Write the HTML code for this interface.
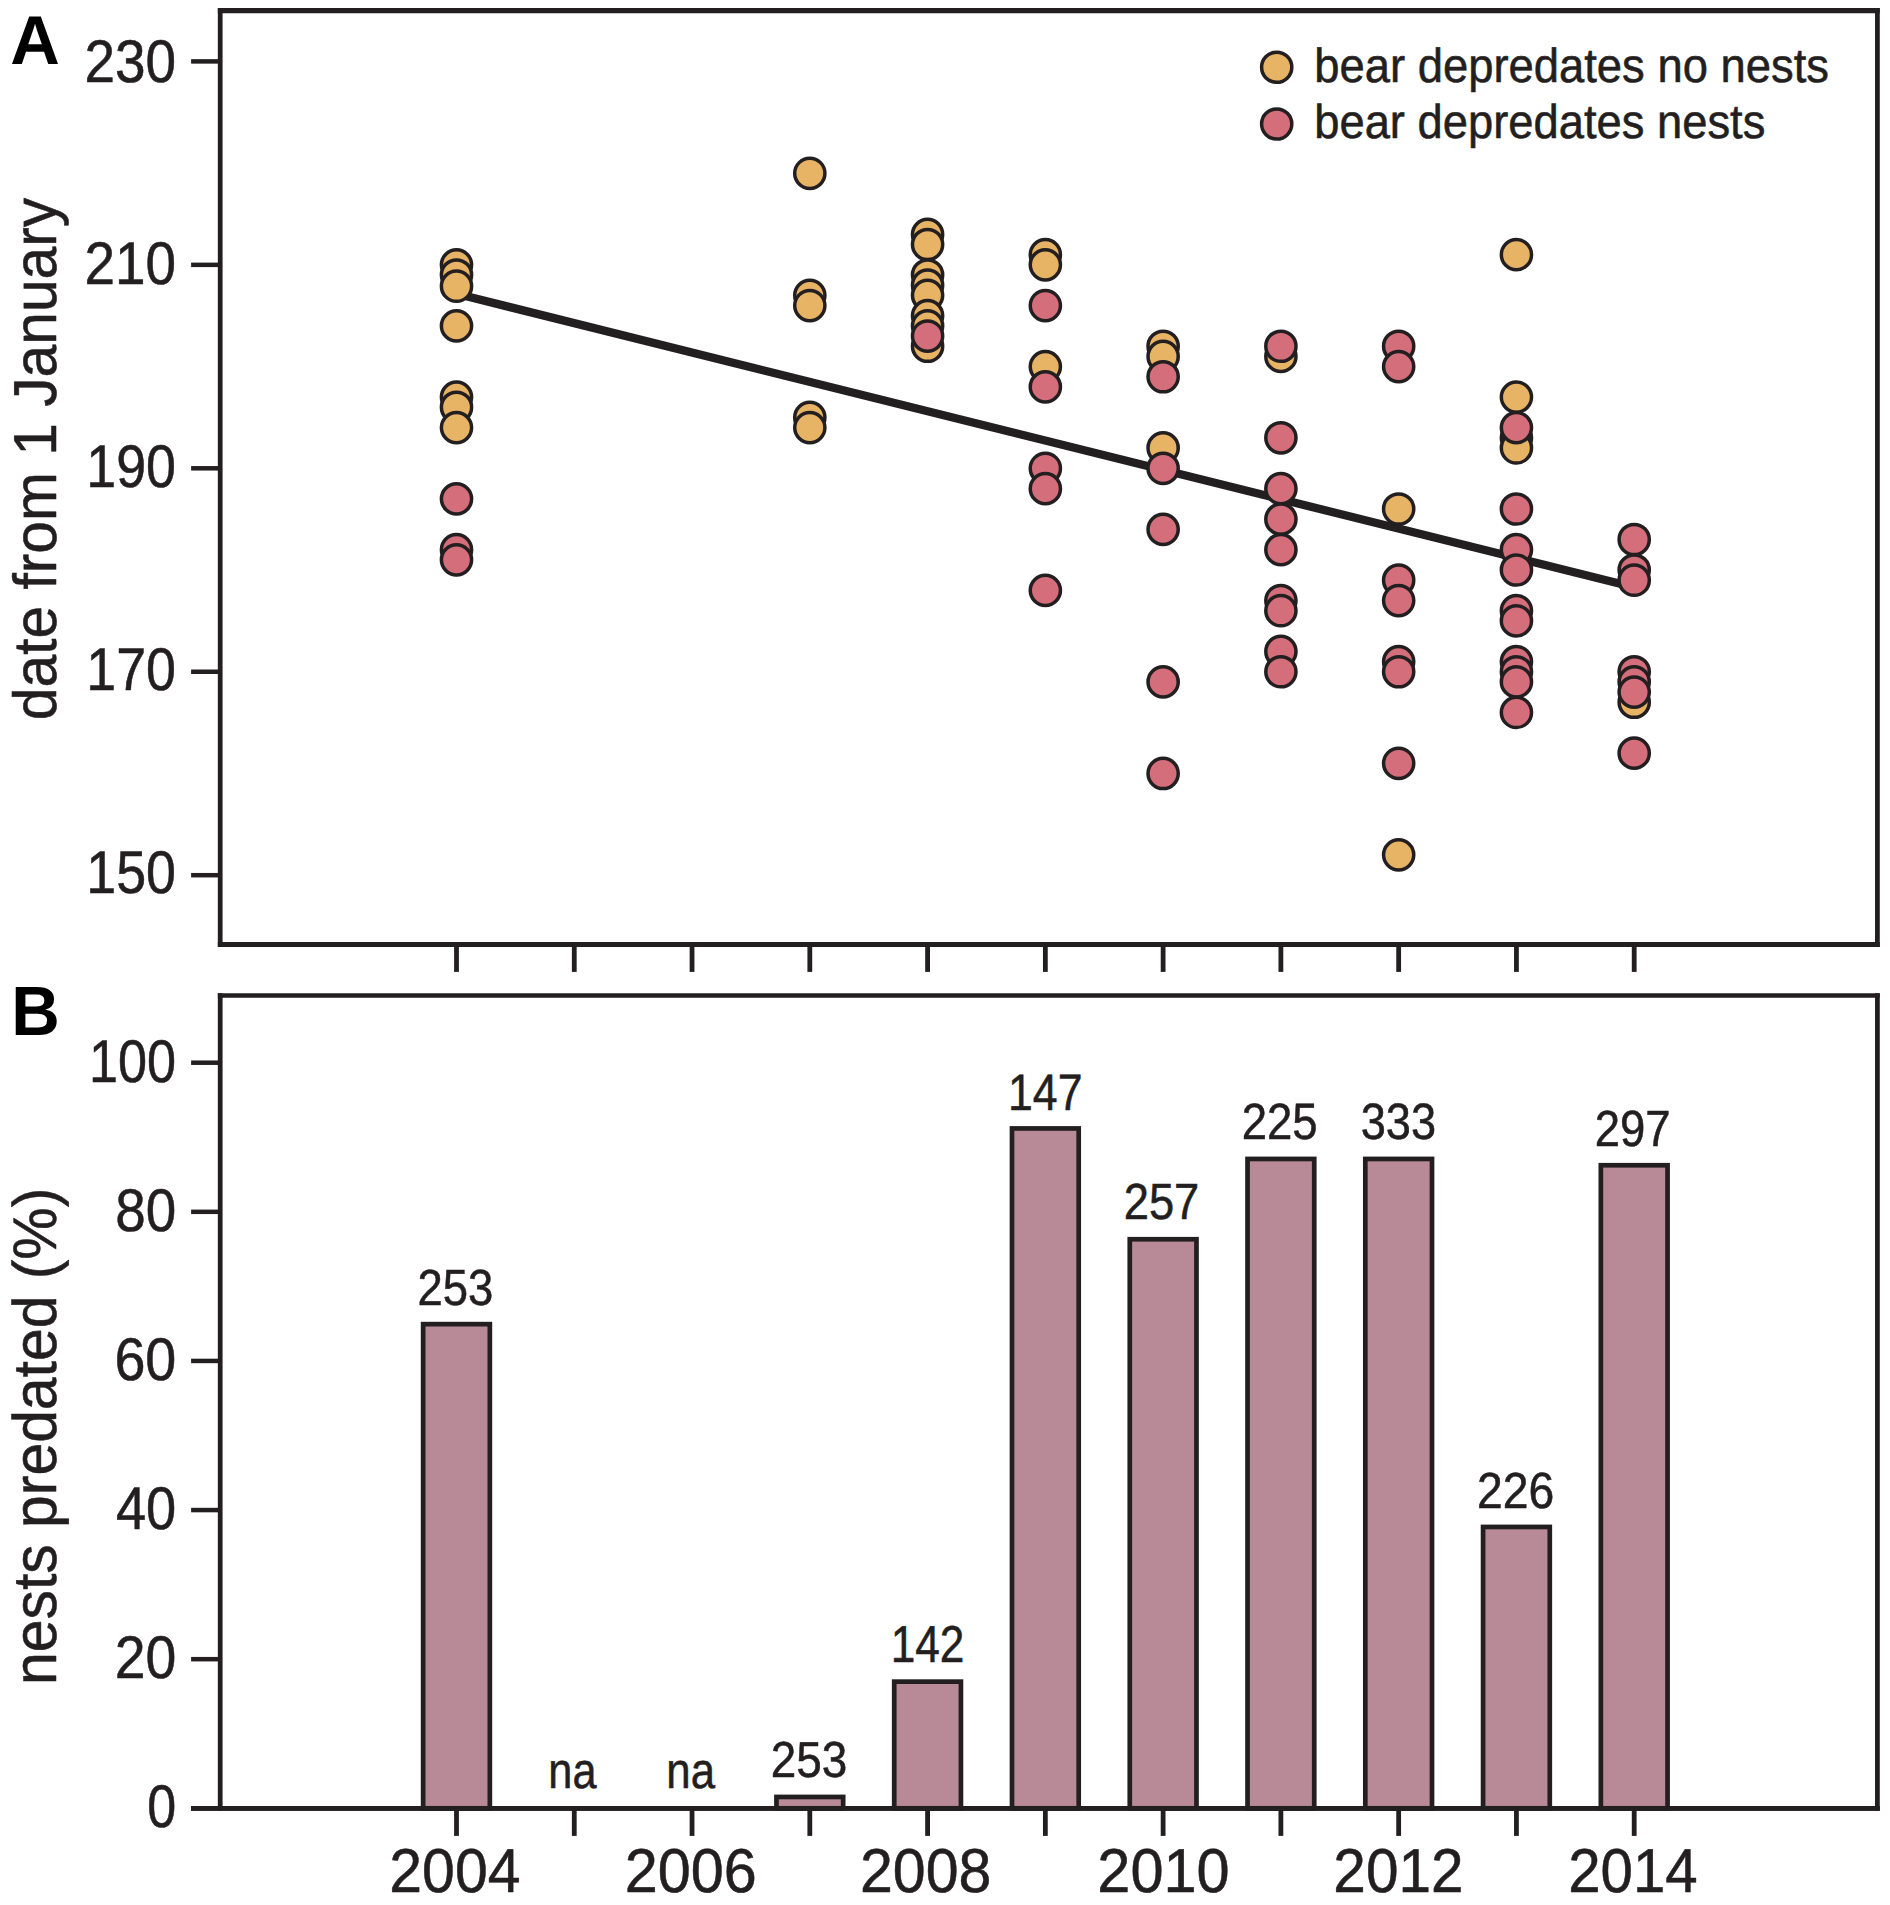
<!DOCTYPE html>
<html lang="en"><head><meta charset="utf-8"><title>Figure</title>
<style>html,body{margin:0;padding:0;background:#fff}svg{display:block}</style></head>
<body>
<svg width="1890" height="1905" viewBox="0 0 1890 1905">
<rect width="1890" height="1905" fill="#fff"/>
<g fill="none" stroke="#231F20" stroke-width="4.75" stroke-linecap="butt">
<path d="M220.2,8.0 V946.9 M1877.4,8.0 V946.9"/>
<path d="M220.2,993.2 V1810.6 M1877.4,993.2 V1810.6"/>
<path d="M217.825,10.6 H1879.775" stroke-width="5.3"/>
<path d="M217.825,944.4 H1879.775" stroke-width="5.0"/>
<path d="M217.825,995.5 H1879.775" stroke-width="4.7"/>
<path d="M191.1,1808.3 H1879.775" stroke-width="4.7"/>
<path d="M191.1,61.40 H220.2" stroke-width="4.5"/>
<path d="M191.1,264.85 H220.2" stroke-width="4.5"/>
<path d="M191.1,468.30 H220.2" stroke-width="4.5"/>
<path d="M191.1,671.75 H220.2" stroke-width="4.5"/>
<path d="M191.1,875.20 H220.2" stroke-width="4.5"/>
<path d="M191.1,1062.70 H220.2" stroke-width="4.5"/>
<path d="M191.1,1211.82 H220.2" stroke-width="4.5"/>
<path d="M191.1,1360.94 H220.2" stroke-width="4.5"/>
<path d="M191.1,1510.06 H220.2" stroke-width="4.5"/>
<path d="M191.1,1659.18 H220.2" stroke-width="4.5"/>
<path d="M456.50,944.4 V971.9" stroke-width="4.8"/>
<path d="M456.50,1808.3 V1835.9" stroke-width="4.8"/>
<path d="M574.27,944.4 V971.9" stroke-width="4.8"/>
<path d="M574.27,1808.3 V1835.9" stroke-width="4.8"/>
<path d="M692.04,944.4 V971.9" stroke-width="4.8"/>
<path d="M692.04,1808.3 V1835.9" stroke-width="4.8"/>
<path d="M809.81,944.4 V971.9" stroke-width="4.8"/>
<path d="M809.81,1808.3 V1835.9" stroke-width="4.8"/>
<path d="M927.58,944.4 V971.9" stroke-width="4.8"/>
<path d="M927.58,1808.3 V1835.9" stroke-width="4.8"/>
<path d="M1045.35,944.4 V971.9" stroke-width="4.8"/>
<path d="M1045.35,1808.3 V1835.9" stroke-width="4.8"/>
<path d="M1163.12,944.4 V971.9" stroke-width="4.8"/>
<path d="M1163.12,1808.3 V1835.9" stroke-width="4.8"/>
<path d="M1280.89,944.4 V971.9" stroke-width="4.8"/>
<path d="M1280.89,1808.3 V1835.9" stroke-width="4.8"/>
<path d="M1398.66,944.4 V971.9" stroke-width="4.8"/>
<path d="M1398.66,1808.3 V1835.9" stroke-width="4.8"/>
<path d="M1516.43,944.4 V971.9" stroke-width="4.8"/>
<path d="M1516.43,1808.3 V1835.9" stroke-width="4.8"/>
<path d="M1634.20,944.4 V971.9" stroke-width="4.8"/>
<path d="M1634.20,1808.3 V1835.9" stroke-width="4.8"/>
</g>
<g fill="#B88996" stroke="#231F20" stroke-width="4.7">
<rect x="423.15" y="1324.15" width="66.7" height="484.15"/>
<rect x="776.46" y="1796.95" width="66.7" height="11.35"/>
<rect x="894.23" y="1681.65" width="66.7" height="126.65"/>
<rect x="1012.00" y="1128.45" width="66.7" height="679.85"/>
<rect x="1129.77" y="1239.25" width="66.7" height="569.05"/>
<rect x="1247.54" y="1158.95" width="66.7" height="649.35"/>
<rect x="1365.31" y="1158.95" width="66.7" height="649.35"/>
<rect x="1483.08" y="1526.95" width="66.7" height="281.35"/>
<rect x="1600.85" y="1165.25" width="66.7" height="643.05"/>
</g>
<path d="M191.1,1808.3 H1879.775" stroke="#231F20" stroke-width="4.7" fill="none"/>
<g fill="#E7B364" stroke="#231F20" stroke-width="3.5">
<circle cx="809.81" cy="173.30" r="15.1"/>
<circle cx="809.81" cy="295.37" r="15.1"/>
<circle cx="809.81" cy="305.54" r="15.1"/>
<circle cx="809.81" cy="417.44" r="15.1"/>
<circle cx="809.81" cy="427.61" r="15.1"/>
<circle cx="927.58" cy="234.33" r="15.1"/>
<circle cx="927.58" cy="244.50" r="15.1"/>
<circle cx="927.58" cy="275.02" r="15.1"/>
<circle cx="927.58" cy="285.19" r="15.1"/>
<circle cx="927.58" cy="295.37" r="15.1"/>
<circle cx="927.58" cy="315.71" r="15.1"/>
<circle cx="927.58" cy="325.88" r="15.1"/>
<circle cx="927.58" cy="346.23" r="15.1"/>
<circle cx="1045.35" cy="254.68" r="15.1"/>
<circle cx="1045.35" cy="264.85" r="15.1"/>
<circle cx="1045.35" cy="366.57" r="15.1"/>
<circle cx="1163.12" cy="346.23" r="15.1"/>
<circle cx="1163.12" cy="356.40" r="15.1"/>
<circle cx="1163.12" cy="447.95" r="15.1"/>
<circle cx="1280.89" cy="356.40" r="15.1"/>
<circle cx="1398.66" cy="508.99" r="15.1"/>
<circle cx="1398.66" cy="854.85" r="15.1"/>
<circle cx="1516.43" cy="254.68" r="15.1"/>
<circle cx="1516.43" cy="397.09" r="15.1"/>
<circle cx="1516.43" cy="437.78" r="15.1"/>
<circle cx="1516.43" cy="447.95" r="15.1"/>
<circle cx="1634.20" cy="702.27" r="15.1"/>
</g>
<path d="M456.50,293.8 L1634.20,587.3" stroke="#231F20" stroke-width="8.3" fill="none"/>
<g fill="#E7B364" stroke="#231F20" stroke-width="3.5">
<circle cx="456.50" cy="264.85" r="15.1"/>
<circle cx="456.50" cy="275.02" r="15.1"/>
<circle cx="456.50" cy="286.21" r="15.1"/>
<circle cx="456.50" cy="325.88" r="15.1"/>
<circle cx="456.50" cy="397.09" r="15.1"/>
<circle cx="456.50" cy="407.26" r="15.1"/>
<circle cx="456.50" cy="427.61" r="15.1"/>
</g>
<g fill="#D46E7B" stroke="#231F20" stroke-width="3.5">
<circle cx="456.50" cy="498.82" r="15.1"/>
<circle cx="456.50" cy="549.68" r="15.1"/>
<circle cx="456.50" cy="559.85" r="15.1"/>
<circle cx="927.58" cy="336.06" r="15.1"/>
<circle cx="1045.35" cy="305.54" r="15.1"/>
<circle cx="1045.35" cy="386.92" r="15.1"/>
<circle cx="1045.35" cy="468.30" r="15.1"/>
<circle cx="1045.35" cy="488.64" r="15.1"/>
<circle cx="1045.35" cy="590.37" r="15.1"/>
<circle cx="1163.12" cy="376.75" r="15.1"/>
<circle cx="1163.12" cy="468.30" r="15.1"/>
<circle cx="1163.12" cy="529.33" r="15.1"/>
<circle cx="1163.12" cy="681.92" r="15.1"/>
<circle cx="1163.12" cy="773.47" r="15.1"/>
<circle cx="1280.89" cy="346.23" r="15.1"/>
<circle cx="1280.89" cy="437.78" r="15.1"/>
<circle cx="1280.89" cy="488.64" r="15.1"/>
<circle cx="1280.89" cy="519.16" r="15.1"/>
<circle cx="1280.89" cy="549.68" r="15.1"/>
<circle cx="1280.89" cy="600.54" r="15.1"/>
<circle cx="1280.89" cy="610.71" r="15.1"/>
<circle cx="1280.89" cy="651.40" r="15.1"/>
<circle cx="1280.89" cy="671.75" r="15.1"/>
<circle cx="1398.66" cy="346.23" r="15.1"/>
<circle cx="1398.66" cy="366.57" r="15.1"/>
<circle cx="1398.66" cy="580.20" r="15.1"/>
<circle cx="1398.66" cy="600.54" r="15.1"/>
<circle cx="1398.66" cy="661.58" r="15.1"/>
<circle cx="1398.66" cy="671.75" r="15.1"/>
<circle cx="1398.66" cy="763.30" r="15.1"/>
<circle cx="1516.43" cy="427.61" r="15.1"/>
<circle cx="1516.43" cy="508.99" r="15.1"/>
<circle cx="1516.43" cy="549.68" r="15.1"/>
<circle cx="1516.43" cy="570.02" r="15.1"/>
<circle cx="1516.43" cy="610.71" r="15.1"/>
<circle cx="1516.43" cy="620.89" r="15.1"/>
<circle cx="1516.43" cy="661.58" r="15.1"/>
<circle cx="1516.43" cy="671.75" r="15.1"/>
<circle cx="1516.43" cy="681.92" r="15.1"/>
<circle cx="1516.43" cy="712.44" r="15.1"/>
<circle cx="1634.20" cy="539.51" r="15.1"/>
<circle cx="1634.20" cy="570.02" r="15.1"/>
<circle cx="1634.20" cy="580.20" r="15.1"/>
<circle cx="1634.20" cy="671.75" r="15.1"/>
<circle cx="1634.20" cy="681.92" r="15.1"/>
<circle cx="1634.20" cy="692.09" r="15.1"/>
<circle cx="1634.20" cy="753.13" r="15.1"/>
</g>
<circle cx="1276.7" cy="67.25" r="15.1" fill="#E7B364" stroke="#231F20" stroke-width="3.5"/>
<circle cx="1276.7" cy="124" r="15.1" fill="#D46E7B" stroke="#231F20" stroke-width="3.5"/>
<g fill="#231F20" stroke="#231F20" stroke-width="0.55" stroke-linejoin="round" font-family='"Liberation Sans", Arial, Helvetica, sans-serif' text-rendering="geometricPrecision">
<text transform="translate(1314.23,82.04) scale(0.9440,1)" font-size="48.09">bear depredates no nests</text>
<text transform="translate(1314.23,138.01) scale(0.9493,1)" font-size="47.76">bear depredates nests</text>
</g>
<g fill="#000" font-family='"Liberation Sans", Arial, Helvetica, sans-serif' text-rendering="geometricPrecision">
<text transform="translate(10.18,63.50) scale(0.9916,1)" font-size="69.24" font-weight="bold">A</text>
<text transform="translate(11.36,1035.00) scale(0.9647,1)" font-size="69.67" font-weight="bold">B</text>
</g>
<g fill="#231F20" stroke="#231F20" stroke-width="0.55" stroke-linejoin="round" font-family='"Liberation Sans", Arial, Helvetica, sans-serif' text-rendering="geometricPrecision">
<text transform="translate(84.44,81.62) scale(0.9109,1)" font-size="60.27">230</text>
<text transform="translate(84.54,284.42) scale(0.9099,1)" font-size="60.27">210</text>
<text transform="translate(86.25,487.22) scale(0.8925,1)" font-size="60.27">190</text>
<text transform="translate(86.25,690.02) scale(0.8925,1)" font-size="60.27">170</text>
<text transform="translate(86.25,892.82) scale(0.8925,1)" font-size="60.27">150</text>
<text transform="translate(89.07,1082.02) scale(0.8658,1)" font-size="60.27">100</text>
<text transform="translate(115.35,1230.94) scale(0.9092,1)" font-size="60.27">80</text>
<text transform="translate(114.40,1379.86) scale(0.9240,1)" font-size="60.27">60</text>
<text transform="translate(115.96,1528.78) scale(0.8998,1)" font-size="60.27">40</text>
<text transform="translate(114.71,1677.70) scale(0.9191,1)" font-size="60.27">20</text>
<text transform="translate(147.20,1826.62) scale(0.8632,1)" font-size="60.27">0</text>
<text transform="translate(389.33,1892.30) scale(0.9513,1)" font-size="61.96">2004</text>
<text transform="translate(624.71,1892.30) scale(0.9580,1)" font-size="61.96">2006</text>
<text transform="translate(860.03,1892.30) scale(0.9527,1)" font-size="61.96">2008</text>
<text transform="translate(1097.30,1892.30) scale(0.9603,1)" font-size="61.96">2010</text>
<text transform="translate(1333.35,1892.30) scale(0.9446,1)" font-size="61.96">2012</text>
<text transform="translate(1568.17,1892.30) scale(0.9393,1)" font-size="61.96">2014</text>
<text transform="translate(417.51,1305.41) scale(0.8929,1)" font-size="50.94">253</text>
<text transform="translate(548.36,1787.52) scale(0.8577,1)" font-size="50.48">na</text>
<text transform="translate(666.32,1787.52) scale(0.8672,1)" font-size="50.48">na</text>
<text transform="translate(770.79,1777.41) scale(0.9054,1)" font-size="50.66">253</text>
<text transform="translate(890.66,1661.52) scale(0.8538,1)" font-size="51.81">142</text>
<text transform="translate(1008.03,1109.52) scale(0.8707,1)" font-size="51.26">147</text>
<text transform="translate(1123.71,1218.91) scale(0.8922,1)" font-size="50.80">257</text>
<text transform="translate(1241.70,1139.31) scale(0.8915,1)" font-size="51.08">225</text>
<text transform="translate(1360.69,1139.31) scale(0.8834,1)" font-size="51.08">333</text>
<text transform="translate(1477.06,1508.01) scale(0.9091,1)" font-size="50.94">226</text>
<text transform="translate(1594.81,1146.41) scale(0.8922,1)" font-size="50.94">297</text>
<text transform="translate(55.52,720.22) rotate(-90) scale(0.9671,1)" font-size="60.74">date from 1 January</text>
<text transform="translate(56.06,1684.89) rotate(-90) scale(0.9570,1)" font-size="61.49">nests predated (%)</text>
</g>
</svg>
</body></html>
